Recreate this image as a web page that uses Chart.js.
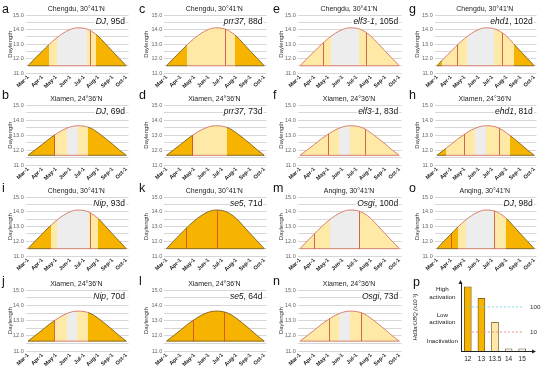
<!DOCTYPE html>
<html><head><meta charset="utf-8">
<script src="https://cdn.jsdelivr.net/npm/chart.js@4.4.1/dist/chart.umd.min.js"></script>
<style>
html,body{margin:0;padding:0;background:#fff;}
body{width:550px;height:371px;position:relative;overflow:hidden;font-family:'Liberation Sans',Arial,sans-serif;}
canvas{position:absolute;}
.lt{position:absolute;font-size:12.5px;color:#111;line-height:1;}
.tt{position:absolute;font-size:7px;color:#222;white-space:nowrap;transform:translate(-50%,-50%);line-height:1;}
.gl{position:absolute;font-size:8.5px;color:#111;white-space:nowrap;transform:translate(-100%,-50%);background:#fff;padding:0 1px;line-height:1.1;}
</style></head><body>
<script>
// ---------- data ----------
const months = ['Mar-1','Apr-1','May-1','Jun-1','Jul-1','Aug-1','Sep-1','Oct-1'];
const monthDays = [0,31,61,92,122,153,184,214];          // days after Mar-1
const sampleDays = [0,15,31,46,61,76,92,107,122,138,153,168,184,199,214];
const dayLenChengdu = [11.50,12.00,12.50,12.98,13.40,13.75,14.02,14.13,14.10,13.90,13.55,13.05,12.50,12.00,11.50];
const dayLenXiamen  = [11.65,12.00,12.38,12.75,13.07,13.35,13.55,13.63,13.60,13.45,13.15,12.80,12.40,12.00,11.65];
const dayLenAnqing  = [11.50,12.00,12.50,12.98,13.40,13.75,14.02,14.13,14.10,13.90,13.55,13.05,12.50,12.00,11.50];
const yGridValues = [11,11.5,12,12.5,13,13.5,14,14.5,15];

// stage phases: [end day, phase]  O = inductive, L = intermediate, G = non-inductive
const stagesA = [[46,'O'],[63,'L'],[128,'G'],[149,'L'],[214,'O']]; const marksA = [137];
const stagesC = [[45,'O'],[150,'L'],[214,'O']];                     const marksC = [130];
const stagesE = [[66,'L'],[127,'G'],[214,'L']];                     const marksE = [50,144];
const stagesG = [[12,'O'],[66,'L'],[126,'G'],[169,'L'],[214,'O']]; const marksG = [46,145];
const stagesB = [[58,'O'],[84,'L'],[108,'G'],[131,'L'],[214,'O']]; const marksB = [58];
const stagesD = [[58,'O'],[132,'L'],[214,'O']];                     const marksD = [58];
const stagesF = [[84,'L'],[107,'G'],[214,'L']];                     const marksF = [61,141];
const stagesH = [[19,'O'],[84,'L'],[107,'G'],[160,'L'],[214,'O']]; const marksH = [61,138];
const stagesI = [[50,'O'],[63,'L'],[132,'G'],[153,'L'],[214,'O']]; const marksI = [137];
const stagesK = [[214,'O']];                                         const marksK = [44,112];
const stagesM = [[64,'L'],[128,'G'],[214,'L']];                     const marksM = [32,128];
const stagesO = [[46,'O'],[63,'L'],[127,'G'],[151,'L'],[214,'O']]; const marksO = [32,127];
const stagesJ = [[57,'O'],[86,'L'],[107,'G'],[130,'L'],[214,'O']]; const marksJ = [57];
const stagesL = [[214,'O']];                                         const marksL = [60,126];
const stagesN = [[85,'L'],[108,'G'],[214,'L']];                     const marksN = [63,133];

const panels = [
 {id:'a',row:0,col:0,site:"Chengdu, 30°41'N",len:dayLenChengdu,geno:'DJ',days:'95d',st:stagesA,mk:marksA},
 {id:'c',row:0,col:1,site:"Chengdu, 30°41'N",len:dayLenChengdu,geno:'prr37',days:'88d',st:stagesC,mk:marksC},
 {id:'e',row:0,col:2,site:"Chengdu, 30°41'N",len:dayLenChengdu,geno:'elf3-1',days:'105d',st:stagesE,mk:marksE},
 {id:'g',row:0,col:3,site:"Chengdu, 30°41'N",len:dayLenChengdu,geno:'ehd1',days:'102d',st:stagesG,mk:marksG},
 {id:'b',row:1,col:0,site:"Xiamen, 24°36'N",len:dayLenXiamen,geno:'DJ',days:'69d',st:stagesB,mk:marksB},
 {id:'d',row:1,col:1,site:"Xiamen, 24°36'N",len:dayLenXiamen,geno:'prr37',days:'73d',st:stagesD,mk:marksD},
 {id:'f',row:1,col:2,site:"Xiamen, 24°36'N",len:dayLenXiamen,geno:'elf3-1',days:'83d',st:stagesF,mk:marksF},
 {id:'h',row:1,col:3,site:"Xiamen, 24°36'N",len:dayLenXiamen,geno:'ehd1',days:'81d',st:stagesH,mk:marksH},
 {id:'i',row:2,col:0,site:"Chengdu, 30°41'N",len:dayLenChengdu,geno:'Nip',days:'93d',st:stagesI,mk:marksI},
 {id:'k',row:2,col:1,site:"Chengdu, 30°41'N",len:dayLenChengdu,geno:'se5',days:'71d',st:stagesK,mk:marksK},
 {id:'m',row:2,col:2,site:"Anqing, 30°41'N",len:dayLenAnqing,geno:'Osgi',days:'100d',st:stagesM,mk:marksM},
 {id:'o',row:2,col:3,site:"Anqing, 30°41'N",len:dayLenAnqing,geno:'DJ',days:'98d',st:stagesO,mk:marksO},
 {id:'j',row:3,col:0,site:"Xiamen, 24°36'N",len:dayLenXiamen,geno:'Nip',days:'70d',st:stagesJ,mk:marksJ},
 {id:'l',row:3,col:1,site:"Xiamen, 24°36'N",len:dayLenXiamen,geno:'se5',days:'64d',st:stagesL,mk:marksL},
 {id:'n',row:3,col:2,site:"Xiamen, 24°36'N",len:dayLenXiamen,geno:'Osgi',days:'73d',st:stagesN,mk:marksN}
];

// panel p
const pCats = ['12','13','13.5','14','15'];
const pValues = [640, 221, 24.4, 2.16, 2.16];
const pPhase = ['O','O','L','N','N'];
const pThresholdHigh = 100;
const pThresholdLow = 10;
const pLevelValues = [350, 35, 4.3];
const pLevelLabels = [['High','activation'],['Low','activation'],['Inactivation']];

// ---------- layout & style ----------
const FONT = "'Liberation Sans', Arial, sans-serif";
const fillPalette = {O:'#F6B400', L:'#FEEAA6', G:'#EDEDED', N:'#F2F2F2'};
const linePalette = {O:'#8a6a20', L:'#d7806f', G:'#d7806f'};
const rowsG = [{t:15,b:73,lb:13.3},{t:105,b:165,lb:100},{t:197,b:256,lb:192.5},{t:290,b:351,lb:286}];
const colsG = [{x0:0,L:25.7,R:129,tc:10,lx:2},{x0:136,L:164.2,R:266.5,tc:146.7,lx:139},
               {x0:271,L:297.7,R:402.3,tc:281.7,lx:273},{x0:407,L:434.7,R:536.8,tc:417.7,lx:409}];

function addDiv(cls, html, x, y){
  const d=document.createElement('div'); d.className=cls; d.innerHTML=html;
  d.style.left=x+'px'; d.style.top=y+'px'; document.body.appendChild(d); return d;
}
function stageGradient(chart, stages, palette){
  const {ctx, chartArea, scales} = chart;
  if(!chartArea || !scales.x) return palette[stages[0][1]];
  const L=chartArea.left, W=chartArea.right-chartArea.left;
  const g=ctx.createLinearGradient(L,0,chartArea.right,0);
  let prev=0;
  stages.forEach(([end,code])=>{
    const f=Math.min(1,Math.max(0,(scales.x.getPixelForValue(end)-L)/W));
    g.addColorStop(prev,palette[code]); g.addColorStop(f,palette[code]); prev=f;
  });
  return g;
}
function markGradient(chart, marks){
  const {ctx, chartArea, scales} = chart;
  const clear='rgba(200,70,50,0)', red='rgba(200,70,50,0.8)';
  if(!chartArea || !scales.x) return clear;
  const L=chartArea.left, W=chartArea.right-chartArea.left;
  const g=ctx.createLinearGradient(L,0,chartArea.right,0);
  g.addColorStop(0,clear);
  [...marks].sort((a,b)=>a-b).forEach(m=>{
    const p=scales.x.getPixelForValue(m);
    const f1=(p-0.5-L)/W, f2=(p+0.5-L)/W;
    g.addColorStop(f1,clear); g.addColorStop(f1,red); g.addColorStop(f2,red); g.addColorStop(f2,clear);
  });
  g.addColorStop(1,clear);
  return g;
}

panels.forEach(p=>{
  const r=rowsG[p.row], c=colsG[p.col];
  const top=r.t-5, xh=18, padR=3;
  const cv=document.createElement('canvas');
  const w=Math.round(c.R-c.x0+padR), h=Math.round(r.b-top+xh);
  cv.width=w; cv.height=h; cv.style.left=c.x0+'px'; cv.style.top=top+'px';
  document.body.appendChild(cv);
  const pts=sampleDays.map((d,i)=>({x:d,y:p.len[i]}));
  const base=p.len[0];
  new Chart(cv,{
    type:'line',
    data:{datasets:[
      {data:pts, order:0, borderWidth:0, pointRadius:0, cubicInterpolationMode:'monotone',
       fill:{value:base}, backgroundColor:(ctx)=>markGradient(ctx.chart,p.mk), borderColor:'rgba(0,0,0,0)'},
      {data:[{x:0,y:base},{x:214,y:base}], order:1, borderWidth:1, pointRadius:0, fill:false,
       borderColor:(ctx)=>stageGradient(ctx.chart,p.st,linePalette)},
      {data:pts, order:2, borderWidth:1, pointRadius:0, cubicInterpolationMode:'monotone',
       fill:{value:base}, backgroundColor:(ctx)=>stageGradient(ctx.chart,p.st,fillPalette),
       borderColor:(ctx)=>stageGradient(ctx.chart,p.st,linePalette)}
    ]},
    options:{
      responsive:false, animation:false, devicePixelRatio:1, events:[],
      layout:{padding:{left:0,top:5,right:padR,bottom:0}},
      plugins:{legend:{display:false},tooltip:{enabled:false},title:{display:false}},
      scales:{
        x:{type:'linear',min:-5,max:219,
           afterBuildTicks:(s)=>{s.ticks=monthDays.map(v=>({value:v}));},
           afterFit:(s)=>{s.height=xh;},
           grid:{display:false,drawTicks:false},border:{display:false},
           ticks:{autoSkip:false,minRotation:45,maxRotation:45,padding:1,color:'#222',
                  font:{family:FONT,size:5.5,weight:'bold'},
                  callback:(v)=>months[monthDays.indexOf(v)]}},
        y:{type:'linear',min:11,max:15,
           afterBuildTicks:(s)=>{s.ticks=yGridValues.map(v=>({value:v}));},
           afterFit:(s)=>{s.width=c.L-c.x0;},
           grid:{color:'#c6c6c6',lineWidth:0.7,drawTicks:false},border:{display:false},
           ticks:{autoSkip:false,padding:2,color:'#666',font:{family:FONT,size:5.5},
                  callback:(v)=>Number.isInteger(v)?v.toFixed(1):''},
           title:{display:true,text:'Daylength',color:'#333',font:{family:FONT,size:6},
                  padding:{top:c.tc-c.x0-3.6,bottom:0}}}
      }
    }
  });
  addDiv('lt',p.id,c.lx,r.lb-10.6);
  addDiv('tt',p.site,(c.L+c.R)/2-1,r.t-7);
  addDiv('gl','<i>'+p.geno+'</i>, '+p.days,c.R-3,r.t+7);
});

// ---------- panel p ----------
(function(){
  const x0=410, y0=270, W=140, H=101;
  const cv=document.createElement('canvas'); cv.width=W; cv.height=H;
  cv.style.left=x0+'px'; cv.style.top=y0+'px'; document.body.appendChild(cv);
  const arrows={id:'arrows',afterDraw(chart){
    const {ctx,chartArea:a}=chart; ctx.save(); ctx.strokeStyle='#222'; ctx.fillStyle='#222'; ctx.lineWidth=1;
    const yb=Math.round(a.bottom)+0.5;
    ctx.beginPath(); ctx.moveTo(a.right,yb); ctx.lineTo(a.right+4,yb); ctx.stroke();
    ctx.beginPath(); ctx.moveTo(a.right+7,yb); ctx.lineTo(a.right+3,yb-2); ctx.lineTo(a.right+3,yb+2); ctx.closePath(); ctx.fill();
    const xl=Math.round(a.left)-0.5;
    ctx.beginPath(); ctx.moveTo(xl,a.top-3); ctx.lineTo(xl-2,a.top+1); ctx.lineTo(xl+2,a.top+1); ctx.closePath(); ctx.fill();
    ctx.restore();
  }};
  new Chart(cv,{
    type:'bar',
    data:{labels:pCats,datasets:[
      {type:'line',data:pCats.map(()=>pThresholdHigh),borderColor:'#7fd0e6',borderWidth:1,borderDash:[2,2],pointRadius:0,order:0},
      {type:'line',data:pCats.map(()=>pThresholdLow),borderColor:'#e8908a',borderWidth:1,borderDash:[2,2],pointRadius:0,order:0},
      {type:'bar',data:pValues,backgroundColor:pPhase.map(k=>fillPalette[k]),borderColor:'#6a5420',borderWidth:0.8,barThickness:7,order:1}
    ]},
    options:{
      responsive:false, animation:false, devicePixelRatio:1, events:[],
      layout:{padding:{left:0,top:13,right:0,bottom:0}},
      plugins:{legend:{display:false},tooltip:{enabled:false}},
      scales:{
        x:{afterFit:(s)=>{s.height=20;},grid:{display:false,drawTicks:false},border:{color:'#222',width:1},
           ticks:{autoSkip:false,minRotation:0,maxRotation:0,color:'#222',padding:4,font:{family:FONT,size:6.5}}},
        y:{type:'logarithmic',position:'left',min:1.75,max:900,
           afterBuildTicks:(s)=>{s.ticks=pLevelValues.map(v=>({value:v}));},
           afterFit:(s)=>{s.width=51;},
           grid:{display:false,drawTicks:false},border:{color:'#222',width:1},
           ticks:{autoSkip:false,crossAlign:'center',padding:3,color:'#222',font:{family:FONT,size:6.2,lineHeight:1.15},
                  callback:(v)=>pLevelLabels[pLevelValues.indexOf(v)]},
           title:{display:true,text:'Hd3a/UBQ (x10⁻³)',color:'#222',font:{family:FONT,size:5.8,style:'italic'},padding:{top:2.4,bottom:0}}},
        y2:{type:'logarithmic',position:'right',min:1.75,max:900,
           afterBuildTicks:(s)=>{s.ticks=[pThresholdLow,pThresholdHigh].map(v=>({value:v}));},
           afterFit:(s)=>{s.width=21;},
           grid:{display:false,drawTicks:false},border:{display:false},
           ticks:{autoSkip:false,padding:1,color:'#333',font:{family:FONT,size:6.2},callback:(v)=>String(v)}}
      }
    },
    plugins:[arrows]
  });
  addDiv('lt','p',413,287-10.6);
})();
</script>
</body></html>
